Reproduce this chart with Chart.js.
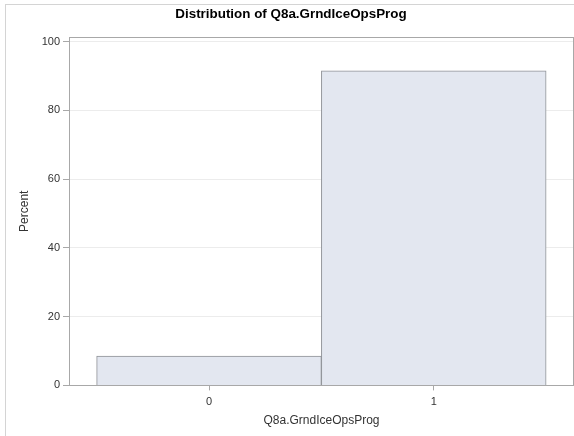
<!DOCTYPE html>
<html>
<head>
<meta charset="utf-8">
<script src="https://cdn.jsdelivr.net/npm/chart.js@4.4.1/dist/chart.umd.min.js"></script>
<style>
  html, body { margin: 0; padding: 0; background: #fff; }
  #wrap { position: relative; width: 574px; height: 436px; overflow: hidden; }
  #edge { position: absolute; left: 5px; top: 4px; width: 700px; height: 600px;
          border-top: 1px solid #d4d4d4; border-left: 1px solid #d4d4d4; }
  #myChart { position: absolute; left: 0; top: 0; }
</style>
</head>
<body>
<div id="wrap">
  <div id="edge"></div>
  <canvas id="myChart" width="574" height="436"></canvas>
</div>
<script>
// histogram values
const categories = [0, 1];
const percents = [8.5, 91.5];
const yTicks = [0, 20, 40, 60, 80, 100];

const points = categories.map((c, i) => ({ x: c, y: percents[i] }));

// draws the box round the plot area
const frame = {
  id: 'frame',
  afterDraw(chart) {
    const a = chart.chartArea;
    const ctx = chart.ctx;
    ctx.save();
    ctx.strokeStyle = '#a8a8a8';
    ctx.lineWidth = 1;
    ctx.strokeRect(Math.round(a.left) + 0.5, Math.round(a.top) + 0.5,
      Math.round(a.right - a.left) - 1, Math.round(a.bottom - a.top));
    ctx.restore();
  }
};

Chart.defaults.font.family = '"Liberation Sans", Arial, sans-serif';
Chart.defaults.color = '#333';

const ctx = document.getElementById('myChart').getContext('2d');
const myChart = new Chart(ctx, {
  type: 'bar',
  data: {
    datasets: [{
      label: 'Percent',
      data: points,
      backgroundColor: '#e3e7f0',
      borderColor: '#8e9196',
      borderWidth: 1,
      borderSkipped: 'bottom',
      barPercentage: 1,
      categoryPercentage: 1
    }]
  },
  options: {
    responsive: false,
    animation: false,
    layout: { padding: { left: 8, right: 0, top: 0, bottom: 8 } },
    plugins: {
      legend: { display: false },
      tooltip: { enabled: false },
      title: {
        display: true,
        text: 'Distribution of Q8a.GrndIceOpsProg',
        color: '#000',
        font: { size: 13.4, weight: 'bold' },
        padding: { top: 6, bottom: 15 }
      }
    },
    scales: {
      x: {
        type: 'linear',
        offset: false,
        min: -0.623,
        max: 1.624,
        afterBuildTicks: s => { s.ticks = categories.map(v => ({ value: v })); },
        ticks: { font: { size: 11 }, padding: 5, maxRotation: 0 },
        grid: { offset: false, drawOnChartArea: false, drawTicks: true, tickLength: 5, color: '#a8a8a8' },
        border: { display: true, color: '#a8a8a8' },
        title: { display: true, text: 'Q8a.GrndIceOpsProg', font: { size: 12 }, padding: { top: 0, bottom: 0 } }
      },
      y: {
        min: 0,
        max: 101.3,
        afterBuildTicks: s => { s.ticks = yTicks.map(v => ({ value: v })); },
        ticks: { font: { size: 11 }, padding: 3 },
        grid: { color: '#ececec', tickColor: '#a8a8a8', tickLength: 6 },
        border: { display: true, color: '#a8a8a8' },
        title: { display: true, text: 'Percent', font: { size: 12 }, padding: { top: 9, bottom: 0 } },
        afterFit: s => { s.width = 61; }
      }
    }
  },
  plugins: [frame]
});
</script>
</body>
</html>
